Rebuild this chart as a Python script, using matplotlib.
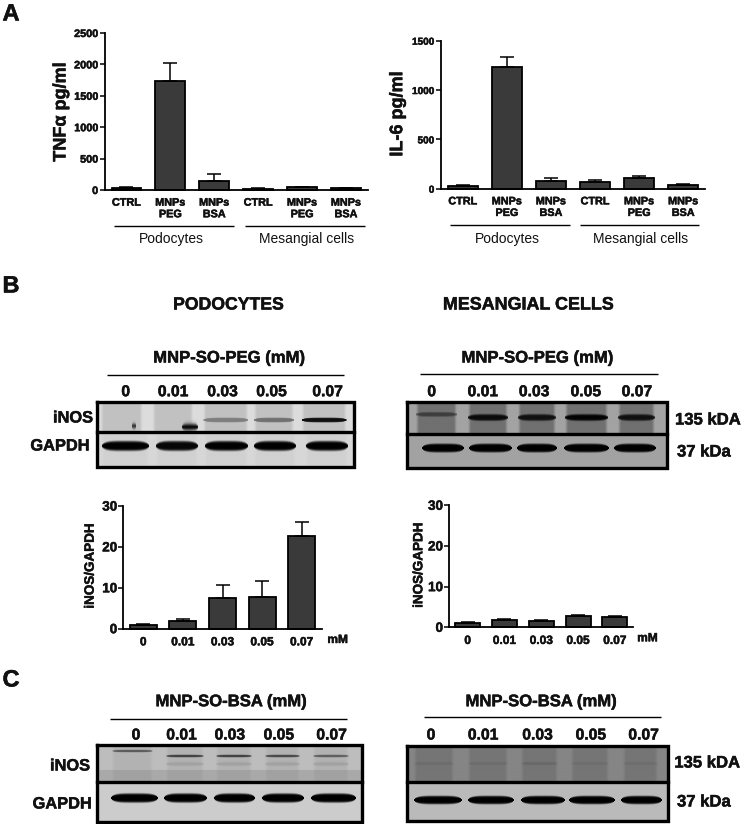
import numpy as np
import matplotlib
matplotlib.use("Agg")
import matplotlib.pyplot as plt
import matplotlib.patheffects as pe

plt.rcParams["font.family"] = ["Liberation Sans", "DejaVu Sans"]

W, H = 742, 824

# -----------------------------
# Data
# -----------------------------
cell_labels = ["CTRL", "MNPs\nPEG", "MNPs\nBSA", "CTRL", "MNPs\nPEG", "MNPs\nBSA"]
dose_labels = ["0", "0.01", "0.03", "0.05", "0.07"]

tnf_vals = [30, 1740, 140, 20, 40, 25]
tnf_err = [10, 290, 115, 8, 15, 10]
tnf_ticks = [0, 500, 1000, 1500, 2000, 2500]

il6_vals = [30, 1235, 75, 70, 105, 35]
il6_err = [10, 100, 35, 20, 25, 13]
il6_ticks = [0, 500, 1000, 1500]

pod_ratio = [1.0, 1.8, 7.4, 7.8, 22.7]
pod_err = [0.1, 0.5, 3.4, 3.8, 3.3]
mes_ratio = [1.1, 1.8, 1.5, 2.7, 2.6]
mes_err = [0.1, 0.15, 0.2, 0.25, 0.15]
ratio_ticks = [0, 10, 20, 30]

# band darkness per lane (0 = no band)
pod_peg_inos = [0.0, 0.0, 0.35, 0.42, 0.92]
pod_peg_gapdh = [1.0, 0.97, 1.0, 1.0, 1.0]
mes_peg_inos = [0.45, 0.9, 0.85, 0.97, 0.85]
mes_peg_gapdh = [1.0, 1.0, 1.0, 1.0, 1.0]
pod_bsa_inos = [0.6, 0.75, 0.75, 0.7, 0.55]
pod_bsa_gapdh = [1.0, 1.0, 1.0, 1.0, 1.0]
mes_bsa_inos = [0.10, 0.10, 0.14, 0.08, 0.08]
mes_bsa_gapdh = [1.0, 1.0, 1.0, 1.0, 1.0]

fig = plt.figure(figsize=(W / 100, H / 100), dpi=100, facecolor="white")

# overlay in image pixels for labels, rules and blots
ov = fig.add_axes([0, 0, 1, 1])
ov.set_xlim(0, W)
ov.set_ylim(H, 0)
ov.axis("off")

heavy = [pe.withStroke(linewidth=0.35, foreground="#111111")]


def px_text(x, y, s, size, weight="bold", ha="center", rot=0):
    t = ov.text(x, y, s, fontsize=size, fontweight=weight, ha=ha, va="center",
                rotation=rot, color="#111111")
    if weight == "bold":
        t.set_path_effects(heavy)


def rule(x0, x1, y, lw=1.0):
    ov.plot([x0, x1], [y, y], color="black", lw=lw, solid_capstyle="butt")


def bar_chart(box, vals, err, yticks, labels, tick_size, xtick_size, linespacing=1.2):
    l, t, r, b = box
    ax = fig.add_axes([l / W, 1 - b / H, (r - l) / W, (b - t) / H])
    ax.patch.set_alpha(0)
    x = np.arange(len(vals))
    ax.bar(x, vals, width=0.68, color="#3a3a3a", edgecolor="black", linewidth=1.3, clip_on=False)
    ax.errorbar(x, vals, yerr=[np.zeros(len(vals)), err], fmt="none", ecolor="black",
                elinewidth=1.1, capsize=5.2, capthick=1.1, clip_on=False)
    ax.set_xlim(-0.5, len(vals) - 0.5)
    ax.set_ylim(yticks[0], yticks[-1])
    ax.set_yticks(yticks)
    ax.set_xticks(x)
    ax.set_xticklabels(labels, fontweight="bold", fontsize=xtick_size, linespacing=linespacing)
    ax.tick_params(axis="x", length=0, pad=5.5)
    ax.tick_params(axis="y", length=3.6, width=1.1, pad=1.0, labelsize=tick_size)
    for lab in ax.get_yticklabels():
        lab.set_fontweight("bold")
    for lab in ax.get_xticklabels() + ax.get_yticklabels():
        lab.set_path_effects(heavy)
        lab.set_color("#111111")
    ax.spines["top"].set_visible(False)
    ax.spines["right"].set_visible(False)
    ax.spines["left"].set_linewidth(1.3)
    ax.spines["bottom"].set_linewidth(1.3)
    return ax


def band_layer(img, x0, y0, edges, yc, h, dark, power=6):
    # darken a float image with soft-ended bands, one per lane
    yy, xx = np.mgrid[0:img.shape[0], 0:img.shape[1]]
    xx = xx + x0 + 0.5
    yy = yy + y0 + 0.5
    for (a, b), d in zip(edges, dark):
        if d <= 0:
            continue
        c = (a + b) / 2
        w = (b - a) / 2
        # band gets thinner toward its ends
        taper = np.clip(1 - ((xx - c) / w) ** 4, 0.05, 1) ** 0.5
        shape = np.exp(-np.abs((yy - yc) / (h * taper)) ** power)
        shape = shape * (np.abs(xx - c) < w)
        img *= 1 - d * shape
    return img


def strip(x0, x1, y0, y1, bg, lane_bg, edges):
    # one grey membrane strip: background, then lighter or darker lanes
    nx, ny = int(x1 - x0), int(y1 - y0)
    img = np.full((ny, nx), float(bg))
    xs = np.arange(nx) + x0 + 0.5
    for a, b in edges:
        m = np.clip((xs - a) / 3, 0, 1) * np.clip((b - xs) / 3, 0, 1)
        img += (lane_bg - bg) * m[None, :]
    return img


def show_blot(x0, x1, y0, ymid, y1, top, bottom):
    ov.imshow(top, extent=(x0, x1, ymid, y0), cmap="gray", vmin=0, vmax=1,
              aspect="auto", interpolation="bilinear", zorder=1)
    ov.imshow(bottom, extent=(x0, x1, y1, ymid), cmap="gray", vmin=0, vmax=1,
              aspect="auto", interpolation="bilinear", zorder=1)
    ov.set_xlim(0, W)
    ov.set_ylim(H, 0)
    ov.plot([x0, x1, x1, x0, x0], [y0, y0, y1, y1, y0], color="black", lw=2.4,
            solid_joinstyle="miter", zorder=3)
    ov.plot([x0, x1], [ymid, ymid], color="black", lw=2.4, zorder=3)


# -----------------------------
# Panel A
# -----------------------------
px_text(11, 14, "A", 17)

bar_chart((104.5, 33, 368, 190), tnf_vals, tnf_err, tnf_ticks, cell_labels, 7.8, 7.8)
px_text(61, 112, "TNFα pg/ml", 13, rot=90)
rule(114, 234, 225.7)
rule(245, 365, 225.7)
px_text(171, 239, "Podocytes", 10, weight="normal")
px_text(306.7, 239, "Mesangial cells", 10, weight="normal")

bar_chart((440.8, 40.7, 705.3, 188.7), il6_vals, il6_err, il6_ticks, cell_labels, 7.2, 7.8)
px_text(397.7, 114, "IL-6 pg/ml", 13, rot=90)
rule(450.3, 569.7, 225)
rule(580.3, 699.3, 225)
px_text(507, 238.7, "Podocytes", 10, weight="normal")
px_text(641, 238.7, "Mesangial cells", 10, weight="normal")

# -----------------------------
# Panel B
# -----------------------------
px_text(11, 286, "B", 17)
px_text(228.5, 305, "PODOCYTES", 12.7)
px_text(528.5, 305, "MESANGIAL CELLS", 12.9)

px_text(229, 358, "MNP-SO-PEG (mM)", 12)
rule(106.7, 344, 375)
for xc, s in zip([125.7, 173.3, 222.7, 271.7, 327.7], dose_labels):
    px_text(xc, 391.7, s, 11.3)
px_text(93, 418, "iNOS", 11.8, ha="right")
px_text(89.5, 446, "GAPDH", 11.8, ha="right")

lanes = [(100.7, 142.7), (152.7, 193.3), (203.3, 248.3), (254, 294), (301.7, 346.7)]
top = strip(97, 354, 402, 432, 0.86, 0.76, lanes)
top = band_layer(top, 97, 402, lanes, 420, 2.4, pod_peg_inos)
# dark smudges on the membrane
top = band_layer(top, 97, 402, [(182, 198)], 427, 3.5, [0.95], power=2)
top = band_layer(top, 97, 402, [(132, 136)], 426, 2.8, [0.7], power=2)
lanes = [(102, 149), (156, 198), (205, 248), (254, 296), (306, 348)]
bot = strip(97, 354, 432, 467, 0.84, 0.82, lanes)
bot = band_layer(bot, 97, 432, lanes, 446.5, 4.8, pod_peg_gapdh)
show_blot(97, 354, 402, 431.7, 467, top, bot)

px_text(537.3, 358, "MNP-SO-PEG (mM)", 12)
rule(420.3, 658.3, 373.7)
for xc, s in zip([431.7, 483, 534.3, 586, 637], dose_labels):
    px_text(xc, 391.7, s, 11.3)
px_text(675, 420, "135 kDA", 12, ha="left")
px_text(677, 452, "37 kDa", 12, ha="left")

lanes = [(416, 457), (468, 508), (518, 556), (565, 608), (618, 655)]
top = strip(407, 667, 402, 434, 0.64, 0.44, lanes)
top = band_layer(top, 407, 402, lanes[:1], 415, 2.2, mes_peg_inos[:1])
top = band_layer(top, 407, 402, lanes[1:], 418, 3.2, mes_peg_inos[1:])
lanes = [(422, 464), (469, 512), (517, 557), (564, 609), (614, 656)]
bot = strip(407, 667, 434, 468, 0.64, 0.64, lanes)
bot = band_layer(bot, 407, 434, lanes, 448, 4.4, mes_peg_gapdh)
show_blot(407, 667, 402, 434.3, 467.7, top, bot)

bar_chart((123.5, 506, 321.5, 628.7), pod_ratio, pod_err, ratio_ticks, dose_labels, 9.7, 8.6)
px_text(90.7, 565.8, "iNOS/GAPDH", 9.7, rot=90)
px_text(337.5, 640, "mM", 8.6)

bar_chart((449.3, 505.3, 633.3, 627.3), mes_ratio, mes_err, ratio_ticks, dose_labels, 9.7, 8.6)
px_text(419.3, 565, "iNOS/GAPDH", 9.7, rot=90)
px_text(647.3, 638.3, "mM", 8.6)

# -----------------------------
# Panel C
# -----------------------------
px_text(11, 680, "C", 17)

px_text(231, 701.7, "MNP-SO-BSA (mM)", 12)
rule(110, 347.3, 719.3)
for xc, s in zip([136, 181.7, 230, 279, 331.7], dose_labels):
    px_text(xc, 735, s, 11.3)
px_text(90, 766, "iNOS", 11.8, ha="right")
px_text(91.7, 804, "GAPDH", 11.8, ha="right")

lanes = [(112, 153), (166, 204), (216, 252), (265, 300), (313, 349)]
top = strip(97, 362, 745, 782, 0.74, 0.70, lanes)
top[-12:, :] *= 0.9
top = band_layer(top, 97, 745, lanes[:1], 751, 1.1, pod_bsa_inos[:1], power=2)
top = band_layer(top, 97, 745, lanes[1:], 756, 1.2, pod_bsa_inos[1:], power=2)
top = band_layer(top, 97, 745, lanes[1:], 764, 2.0, [0.1] * 4, power=2)
lanes = [(111, 158), (164, 207), (214, 255), (262, 304), (311, 356)]
bot = strip(97, 362, 782, 822, 0.80, 0.80, lanes)
bot = band_layer(bot, 97, 782, lanes, 798, 4.6, pod_bsa_gapdh)
show_blot(97, 362, 745, 781.7, 821.7, top, bot)

px_text(541, 701.7, "MNP-SO-BSA (mM)", 12)
rule(423.7, 661, 717.3)
for xc, s in zip([431, 483.3, 537.7, 591, 643.7], dose_labels):
    px_text(xc, 735, s, 11.3)
px_text(674.3, 763, "135 kDA", 12, ha="left")
px_text(677, 802, "37 kDa", 12, ha="left")

lanes = [(414, 454), (468, 508), (521, 558), (571, 609), (623, 658)]
top = strip(407, 668, 746, 782, 0.52, 0.46, lanes)
top = band_layer(top, 407, 746, lanes, 764, 1.4, mes_bsa_inos, power=2)
lanes = [(414, 462), (468, 514), (521, 565), (569, 615), (621, 662)]
bot = strip(407, 668, 782, 821, 0.73, 0.73, lanes)
bot = band_layer(bot, 407, 782, lanes, 800, 4.2, mes_bsa_gapdh)
show_blot(407, 668, 746, 782.3, 821, top, bot)

fig.savefig("out.png", dpi=100)
